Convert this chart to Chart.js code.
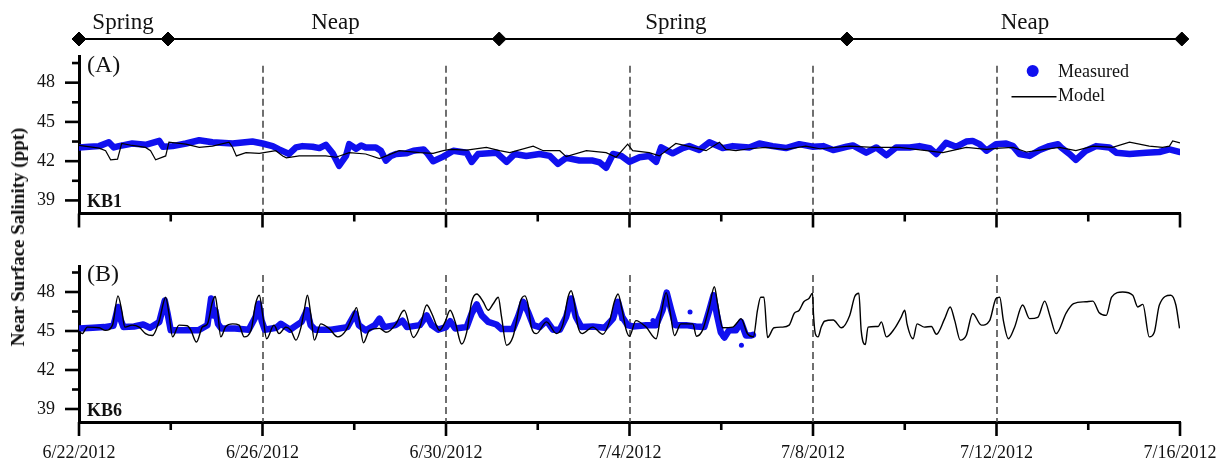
<!DOCTYPE html>
<html>
<head>
<meta charset="utf-8">
<title>Near surface salinity, KB1 and KB6</title>
<script src="https://cdn.jsdelivr.net/npm/chart.js@4.4.1/dist/chart.umd.min.js"></script>
<style>
  html, body { margin: 0; padding: 0; background: #fff; }
  #wrap { position: relative; width: 1219px; height: 462px; overflow: hidden; }
  #wrap canvas { position: absolute; left: 0; }
  #ytitle {
    position: absolute; left: 18px; top: 237px;
    transform: translate(-50%, -50%) rotate(-90deg);
    font: bold 19px 'Times New Roman', 'Liberation Serif', serif;
    color: #111; white-space: nowrap;
  }
</style>
</head>
<body>
<div id="wrap">
  <canvas id="phase" width="1219" height="50" style="top:0"></canvas>
  <canvas id="kb1" width="1219" height="190" style="top:50px"></canvas>
  <canvas id="kb6" width="1219" height="222" style="top:240px"></canvas>
  <div id="ytitle">Near Surface Salinity (ppt)</div>
</div>
<script>
// ---- time axis (days after 6/22/2012 00:00) ----
const majorDays = [0, 4, 8, 12, 16, 20, 24];
const minorDays = [2, 6, 10, 14, 18, 22];
const dateLabels = ['6/22/2012', '6/26/2012', '6/30/2012', '7/4/2012', '7/8/2012', '7/12/2012', '7/16/2012'];

// ---- salinity axis (ppt) ----
const yMajor = [39, 42, 45, 48];
const yMinor = [40.5, 43.5, 46.5, 49.5];

// ---- spring / neap tide phases ----
const phaseDays = [0, 1.94, 9.16, 16.74, 24.04];
const phaseNames = ['Spring', 'Neap', 'Spring', 'Neap'];
const phaseLabelDays = [0.96, 5.59, 13.01, 20.62];

// ---- KB1 near surface salinity [day, ppt] ----
const kb1Measured = [
  [0.00,43.05],[0.22,43.1],[0.44,43.15],[0.65,43.45],[0.76,43.05],[0.87,43.15],[1.16,43.35],[1.45,43.25],
  [1.75,43.55],[1.83,43.1],[2.04,43.15],[2.33,43.35],[2.62,43.6],[2.91,43.45],[3.35,43.35],[3.78,43.5],
  [4.0,43.35],[4.22,43.15],[4.36,42.9],[4.58,42.55],[4.73,43.05],[4.87,43.15],[5.09,43.1],[5.24,43.0],
  [5.38,43.25],[5.53,42.6],[5.67,41.65],[5.82,42.4],[5.89,43.3],[6.04,42.95],[6.15,43.2],[6.25,43.05],
  [6.47,43.05],[6.58,42.8],[6.69,42.05],[6.8,42.4],[6.91,42.55],[7.13,42.6],[7.29,42.8],[7.51,42.9],
  [7.58,42.65],[7.72,42.0],[7.94,42.35],[8.16,42.8],[8.45,42.65],[8.56,41.95],[8.7,42.55],[9.1,42.65],
  [9.32,41.95],[9.5,42.55],[9.75,42.4],[10.04,42.55],[10.26,42.4],[10.44,41.8],[10.62,42.25],[10.91,42.05],
  [11.2,42.05],[11.35,41.9],[11.49,41.5],[11.64,42.55],[11.82,42.4],[12.0,41.95],[12.22,42.3],[12.43,42.4],
  [12.58,41.95],[12.69,43.05],[12.94,42.6],[13.16,43.0],[13.3,43.15],[13.52,42.85],[13.74,43.45],[14.03,43.0],
  [14.25,43.15],[14.61,43.05],[14.83,43.35],[15.12,43.15],[15.41,43.0],[15.7,43.3],[16.0,43.1],[16.22,43.15],
  [16.44,42.85],[16.73,43.1],[16.87,43.2],[17.16,42.65],[17.38,43.05],[17.6,42.45],[17.81,43.05],[18.11,43.05],
  [18.32,43.15],[18.54,43.0],[18.69,42.55],[18.9,43.4],[19.12,43.1],[19.34,43.5],[19.48,43.55],[19.63,43.3],
  [19.78,42.8],[19.99,43.3],[20.21,43.35],[20.36,43.15],[20.5,42.55],[20.72,42.4],[20.94,42.85],[21.15,43.15],
  [21.34,43.3],[21.41,43.05],[21.59,42.55],[21.73,42.1],[21.95,42.8],[22.17,43.15],[22.46,43.05],[22.61,42.65],
  [22.9,42.55],[23.26,42.65],[23.55,42.7],[23.77,42.9],[24.0,42.7]
];
const kb1Model = [
  [0.00,43.2],[0.44,43.0],[0.58,42.8],[0.69,42.1],[0.84,42.15],[0.93,43.35],[1.16,43.2],[1.45,43.05],
  [1.56,42.8],[1.67,42.1],[1.89,42.4],[1.96,43.45],[2.33,43.3],[2.62,43.05],[2.91,43.15],[3.27,43.45],
  [3.35,43.05],[3.43,42.4],[3.64,42.65],[3.93,42.6],[4.29,42.8],[4.44,42.4],[4.52,42.25],[4.8,42.4],
  [5.09,42.4],[5.38,42.4],[5.6,42.3],[5.89,42.65],[6.25,42.55],[6.55,42.2],[6.98,42.8],[7.42,42.65],
  [7.72,42.6],[7.94,42.8],[8.09,42.9],[8.45,42.85],[8.88,43.05],[9.17,42.8],[9.39,42.65],[9.9,43.15],
  [10.12,42.8],[10.48,42.8],[10.62,42.35],[11.06,42.8],[11.49,42.65],[11.71,42.3],[11.96,43.3],[12.07,42.8],
  [12.43,42.65],[12.65,42.4],[13.01,43.35],[13.38,43.05],[13.67,42.8],[13.96,43.45],[14.1,42.9],[14.32,42.8],
  [14.61,42.95],[14.97,43.05],[15.41,42.9],[15.84,43.15],[16.15,42.95],[16.8,43.15],[17.31,43.05],[17.89,43.05],
  [18.47,42.8],[18.83,42.65],[19.34,43.05],[19.78,42.9],[20.07,43.0],[20.36,43.05],[20.65,42.7],[20.94,42.85],
  [21.37,43.05],[21.73,42.8],[22.1,43.15],[22.53,43.05],[22.9,43.45],[23.33,43.15],[23.62,43.05],[23.77,43.15],
  [23.84,43.55],[24.0,43.4]
];

// ---- KB6 near surface salinity [day, ppt] ----
const kb6Measured = [
  [0.0,45.2],[0.3,45.25],[0.55,45.3],[0.75,45.4],[0.8,46.1],[0.85,46.85],[0.9,45.95],[0.97,45.3],
  [1.2,45.35],[1.4,45.5],[1.55,45.25],[1.75,45.7],[1.87,47.35],[1.93,46.35],[2.0,45.05],[2.3,45.05],
  [2.6,45.05],[2.8,45.45],[2.88,47.5],[2.93,46.2],[2.97,46.6],[3.03,45.55],[3.1,45.2],[3.4,45.2],
  [3.7,45.1],[3.85,46.1],[3.92,47.1],[3.98,45.8],[4.05,45.1],[4.3,45.25],[4.4,45.55],[4.6,45.1],
  [4.85,45.7],[4.97,46.6],[5.05,45.45],[5.15,45.1],[5.5,45.1],[5.85,45.3],[6.02,46.35],[6.1,45.45],
  [6.25,45.05],[6.45,45.45],[6.55,45.95],[6.65,45.3],[6.9,45.45],[7.05,45.8],[7.15,45.3],[7.43,45.45],
  [7.58,46.2],[7.69,45.45],[7.83,45.1],[8.0,45.3],[8.09,45.75],[8.2,45.2],[8.45,45.3],[8.56,46.35],
  [8.67,47.05],[8.78,46.2],[8.92,45.7],[9.1,45.5],[9.21,45.15],[9.46,45.15],[9.57,46.1],[9.68,47.25],
  [9.79,46.45],[9.9,45.45],[10.04,45.3],[10.19,45.8],[10.33,45.1],[10.48,45.1],[10.62,46.1],[10.73,47.5],
  [10.83,46.1],[10.95,45.3],[11.2,45.35],[11.46,45.25],[11.64,45.95],[11.75,47.25],[11.84,46.1],[11.96,45.45],
  [12.07,45.35],[12.36,45.45],[12.58,45.45],[12.72,46.6],[12.81,47.95],[12.91,46.6],[13.0,45.45],[13.23,45.45],
  [13.45,45.35],[13.63,45.3],[13.74,46.6],[13.83,47.75],[13.9,46.35],[13.99,44.9],[14.07,44.5],[14.17,45.05],
  [14.32,45.05],[14.43,45.7],[14.54,44.65],[14.64,44.65],[14.69,44.7]
];
const kb6MeasuredScatter = [
  [11.83,45.95],[12.51,45.8],[13.32,46.47],[14.04,44.55],[14.44,43.9]
];
const kb6Model = [
  [0.0,45.0],[0.07,44.8],[0.18,45.3],[0.44,45.25],[0.58,45.05],[0.73,45.45],[0.85,47.7],[0.93,46.6],
  [1.0,45.3],[1.16,45.45],[1.31,45.3],[1.45,44.8],[1.6,44.65],[1.75,45.8],[1.89,47.6],[1.96,46.35],
  [2.04,44.55],[2.18,45.45],[2.36,45.4],[2.44,45.05],[2.56,44.15],[2.69,45.3],[2.8,45.55],[2.91,47.25],
  [2.97,47.65],[3.02,46.6],[3.09,44.55],[3.2,45.35],[3.35,45.55],[3.49,45.45],[3.6,44.55],[3.75,45.05],
  [3.85,47.1],[3.93,47.75],[4.01,46.1],[4.09,44.4],[4.25,45.45],[4.36,44.8],[4.51,45.3],[4.62,45.05],
  [4.73,44.3],[4.84,45.3],[4.91,46.6],[4.98,47.75],[5.05,46.35],[5.13,44.3],[5.27,45.55],[5.45,45.2],
  [5.64,44.55],[5.82,45.05],[5.96,46.1],[6.05,46.8],[6.11,45.8],[6.2,44.1],[6.33,45.05],[6.55,45.2],
  [6.69,44.9],[6.91,45.55],[7.04,46.45],[7.09,46.6],[7.29,44.5],[7.43,45.3],[7.58,47.0],[7.69,46.35],
  [7.86,45.05],[7.98,45.7],[8.09,46.6],[8.2,45.7],[8.34,44.0],[8.45,44.9],[8.56,47.25],[8.67,47.85],
  [8.81,47.25],[8.92,46.6],[9.03,47.1],[9.14,47.6],[9.21,46.1],[9.32,43.9],[9.46,44.55],[9.54,45.8],
  [9.62,47.25],[9.72,47.7],[9.79,47.0],[9.86,45.3],[9.97,44.8],[10.19,45.7],[10.41,44.8],[10.55,45.55],
  [10.66,47.6],[10.73,48.1],[10.8,47.1],[10.88,45.3],[10.97,44.8],[11.2,45.3],[11.42,44.75],[11.57,45.8],
  [11.67,47.25],[11.75,47.85],[11.84,46.6],[11.93,45.05],[12.0,44.6],[12.14,45.8],[12.36,45.3],[12.58,44.4],
  [12.69,46.35],[12.8,47.95],[12.88,46.6],[12.98,44.65],[13.12,45.55],[13.38,45.55],[13.46,44.6],[13.59,45.05],
  [13.74,46.85],[13.85,48.4],[13.92,47.1],[14.03,45.25],[14.25,45.3],[14.36,45.7],[14.43,45.95],[14.57,44.8],
  [14.7,44.55],[14.79,46.6],[14.86,47.6],[14.93,47.6],[15.01,44.5],[15.15,45.25],[15.33,45.3],[15.48,45.45],
  [15.59,46.35],[15.7,46.6],[15.8,47.25],[15.91,47.5],[15.99,47.9],[16.01,46.35],[16.05,44.8],[16.11,44.55],
  [16.18,45.3],[16.25,45.75],[16.44,45.85],[16.62,45.25],[16.8,46.2],[16.91,47.65],[17.0,47.9],[17.05,45.05],
  [17.14,43.95],[17.2,45.3],[17.42,45.35],[17.49,45.7],[17.6,44.55],[17.78,45.2],[17.92,46.05],[18.0,46.6],
  [18.05,45.55],[18.18,44.4],[18.27,45.55],[18.43,45.3],[18.58,45.35],[18.69,44.75],[18.87,45.95],[18.99,46.85],
  [19.09,45.8],[19.21,44.3],[19.34,44.65],[19.48,46.35],[19.67,45.45],[19.85,45.8],[19.99,47.5],[20.07,47.6],
  [20.15,45.8],[20.26,44.4],[20.39,45.25],[20.57,47.0],[20.72,45.95],[20.9,46.05],[21.05,47.3],[21.17,46.1],
  [21.3,44.8],[21.52,46.4],[21.68,47.1],[21.95,47.25],[22.1,47.3],[22.24,46.4],[22.39,46.2],[22.51,47.6],
  [22.75,48.0],[22.97,47.75],[23.08,46.85],[23.19,47.05],[23.33,44.55],[23.44,44.9],[23.55,47.0],[23.8,47.75],
  [23.91,47.0],[23.99,45.2]
];

// ---- drawing ----
const SERIF = "'Times New Roman', 'Liberation Serif', serif";
const BLUE = '#1010ef';
const INK = '#111';
Chart.defaults.font.family = SERIF;
Chart.defaults.color = INK;

const toXY = pairs => pairs.map(([x, y]) => ({ x, y }));

// keep the plot area exactly where the layout padding puts it
const noScalePadding = s => { s.paddingTop = 0; s.paddingBottom = 0; s.paddingLeft = 0; s.paddingRight = 0; };

// Tide phase bar along the top
const phaseLabels = {
  id: 'phaseLabels',
  afterDraw(chart) {
    const { ctx, scales: { x } } = chart;
    ctx.save();
    ctx.font = `23px ${SERIF}`;
    ctx.fillStyle = INK;
    ctx.textAlign = 'center';
    ctx.textBaseline = 'alphabetic';
    phaseNames.forEach((name, i) => ctx.fillText(name, x.getPixelForValue(phaseLabelDays[i]), 29));
    ctx.restore();
  }
};

new Chart(document.getElementById('phase'), {
  type: 'line',
  data: {
    datasets: [{
      data: phaseDays.map(d => ({ x: d, y: 0.5 })),
      borderColor: '#000', borderWidth: 2,
      pointStyle: 'rectRot', pointRadius: 7,
      pointBackgroundColor: '#000', pointBorderColor: '#000', pointBorderWidth: 1,
      clip: false
    }]
  },
  options: {
    responsive: false, animation: false, events: [],
    layout: { autoPadding: false, padding: { left: 79, right: 39, top: 28, bottom: 0 } },
    scales: {
      x: { type: 'linear', min: 0, max: 24, display: false },
      y: { type: 'linear', min: 0, max: 1, display: false }
    },
    plugins: { legend: { display: false }, tooltip: { enabled: false } }
  },
  plugins: [phaseLabels]
});

// Axis ticks, dashed day markers, panel captions and legend
const panelDecor = {
  id: 'panelDecor',
  beforeDatasetsDraw(chart) {
    const { ctx, chartArea, scales: { x, y } } = chart;
    ctx.save();
    ctx.strokeStyle = '#4d4d4d';
    ctx.lineWidth = 1.6;
    ctx.setLineDash([7, 4]);
    const top = y.getPixelForValue(49.3);
    majorDays.slice(1, -1).forEach(d => {
      const px = Math.round(x.getPixelForValue(d));
      ctx.beginPath();
      ctx.moveTo(px, top);
      ctx.lineTo(px, chartArea.bottom);
      ctx.stroke();
    });
    ctx.restore();
  },
  afterDraw(chart, args, opts) {
    const { ctx, chartArea: a, scales: { x, y } } = chart;
    ctx.save();
    ctx.strokeStyle = '#000';
    ctx.lineWidth = 2.6;
    ctx.lineCap = 'butt';
    const tick = (x1, y1, x2, y2) => { ctx.beginPath(); ctx.moveTo(x1, y1); ctx.lineTo(x2, y2); ctx.stroke(); };
    yMajor.forEach(v => { const p = y.getPixelForValue(v); tick(a.left - 14, p, a.left, p); });
    yMinor.forEach(v => { const p = y.getPixelForValue(v); tick(a.left - 7, p, a.left, p); });
    majorDays.forEach(d => { const p = x.getPixelForValue(d); tick(p, a.bottom, p, a.bottom + 14); });
    minorDays.forEach(d => { const p = x.getPixelForValue(d); tick(p, a.bottom, p, a.bottom + 8); });

    ctx.fillStyle = INK;
    ctx.textAlign = 'left';
    ctx.textBaseline = 'alphabetic';
    ctx.font = `24px ${SERIF}`;
    ctx.fillText(opts.panel, a.left + 8, a.top + 15);
    ctx.font = `bold 18px ${SERIF}`;
    ctx.fillText(opts.station, a.left + 8, a.bottom - 6.5);

    if (opts.legend) {
      const lx = a.right - 122;
      ctx.font = `18px ${SERIF}`;
      ctx.fillStyle = BLUE;
      ctx.beginPath();
      ctx.arc(a.right - 147.3, a.top + 14.5, 6, 0, Math.PI * 2);
      ctx.fill();
      ctx.fillStyle = INK;
      ctx.fillText('Measured', lx, a.top + 20.5);
      ctx.lineWidth = 1.4;
      ctx.strokeStyle = '#000';
      tick(a.right - 168.5, a.top + 40.2, a.right - 123.5, a.top + 40.2);
      ctx.fillText('Model', lx, a.top + 44.5);
    }
    ctx.restore();
  }
};

function salinityPanel(canvasId, cfg) {
  return new Chart(document.getElementById(canvasId), {
    type: 'line',
    data: { datasets: cfg.datasets },
    options: {
      responsive: false, animation: false, events: [],
      layout: { autoPadding: false, padding: { left: 0, right: 39, top: cfg.top, bottom: 0 } },
      elements: { point: { radius: 0 }, line: { tension: 0 } },
      scales: {
        x: {
          type: 'linear', min: 0, max: 24,
          grid: { display: false, drawTicks: false },
          border: { display: true, width: 3, color: '#000' },
          afterBuildTicks: s => { s.ticks = majorDays.map(v => ({ value: v })); },
          afterFit: s => { s.height = cfg.xHeight; noScalePadding(s); },
          ticks: {
            display: cfg.dateTicks, autoSkip: false, maxRotation: 0, padding: 20,
            font: { size: 18 }, color: INK,
            callback: v => dateLabels[majorDays.indexOf(v)]
          }
        },
        y: {
          type: 'linear', min: 38, max: 50,
          grid: { display: false, drawTicks: false },
          border: { display: true, width: 3, color: '#000' },
          afterBuildTicks: s => { s.ticks = yMajor.map(v => ({ value: v })); },
          afterFit: s => { s.width = 79; noScalePadding(s); },
          ticks: { padding: 24, font: { size: 18 }, color: INK }
        }
      },
      plugins: {
        legend: { display: false }, tooltip: { enabled: false },
        panelDecor: { panel: cfg.panel, station: cfg.station, legend: cfg.legend }
      }
    },
    plugins: [panelDecor]
  });
}

salinityPanel('kb1', {
  top: 6.5, xHeight: 26.5, dateTicks: false,
  panel: '(A)', station: 'KB1', legend: true,
  datasets: [
    { label: 'Model', data: toXY(kb1Model), borderColor: '#000', borderWidth: 1.2, order: 1 },
    { label: 'Measured', data: toXY(kb1Measured), borderColor: BLUE, borderWidth: 6.5,
      borderCapStyle: 'round', borderJoinStyle: 'round', order: 2 }
  ]
});

salinityPanel('kb6', {
  top: 26, xHeight: 40, dateTicks: true,
  panel: '(B)', station: 'KB6', legend: false,
  datasets: [
    { label: 'Model', data: toXY(kb6Model), borderColor: '#000', borderWidth: 1.4,
      cubicInterpolationMode: 'monotone', order: 1 },
    { label: 'Measured', data: toXY(kb6Measured), borderColor: BLUE, borderWidth: 6.5,
      borderCapStyle: 'round', borderJoinStyle: 'round', order: 2 },
    { label: 'Measured', data: toXY(kb6MeasuredScatter), showLine: false,
      pointRadius: 2.5, pointBackgroundColor: BLUE, pointBorderWidth: 0, order: 2 }
  ]
});
</script>
</body>
</html>
